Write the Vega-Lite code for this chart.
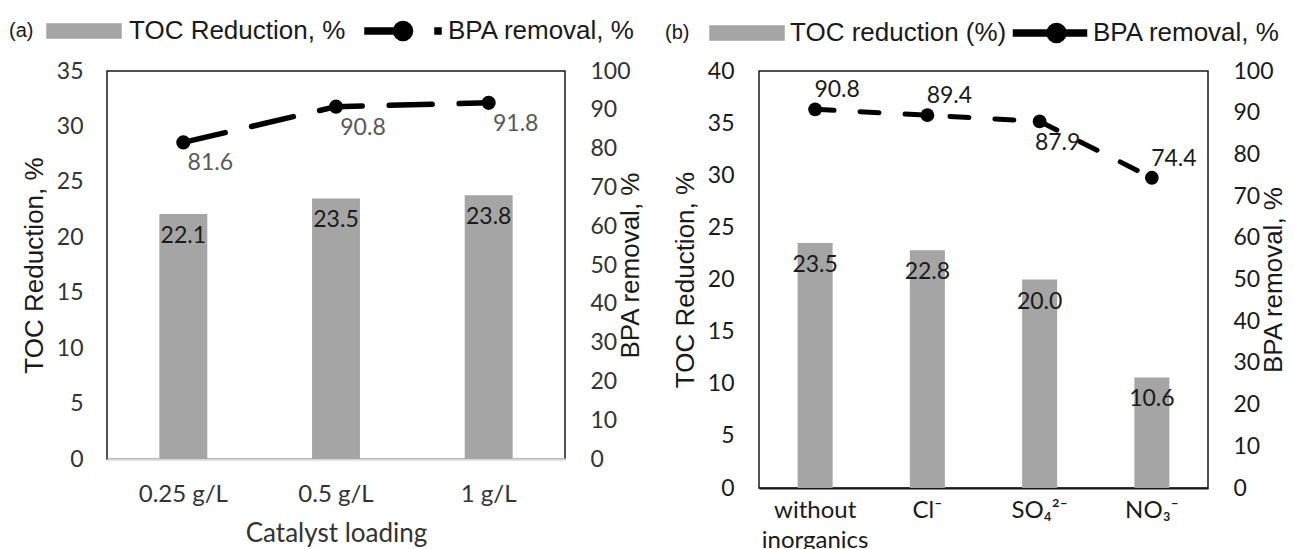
{
  "$schema": "https://vega.github.io/schema/vega-lite/v6.json",
  "background": "white",
  "padding": {"left": 8, "top": 17, "right": 0, "bottom": 0},
  "spacing": 194,
  "bounds": "flush",
  "config": {
    "view": {"stroke": "#1a1a1a", "strokeWidth": 1.5},
    "axis": {"grid": false, "ticks": false, "tickSize": 0, "domain": false, "labelOverlap": false, "labelFont": "Lato", "labelColor": "#333333", "titleFont": "Liberation Sans", "titleFontWeight": "normal", "titleColor": "#1a1a1a", "titleFontSize": 26}
  },
  "resolve": {"scale": {"color": "independent", "x": "independent", "y": "independent"}, "legend": {"color": "independent"}},
  "hconcat": [
    {
      "width": 458,
      "height": 388,
      "data": {"values": [
        {"loading": "0.25 g/L", "toc": 22.1, "bpa": 81.6},
        {"loading": "0.5 g/L", "toc": 23.5, "bpa": 90.8},
        {"loading": "1 g/L", "toc": 23.8, "bpa": 91.8}
      ]},
      "resolve": {"scale": {"y": "independent"}},
      "layer": [
        {
          "layer": [
            {
              "mark": {"type": "bar"},
              "encoding": {
                "x": {"field": "loading", "type": "nominal", "sort": null,
                  "scale": {"paddingInner": 0.686, "paddingOuter": 0.343},
                  "axis": {"title": "Catalyst loading", "titleFont": "Lato", "titleFontSize": 26, "titleColor": "#333333", "labelFontSize": 24, "labelAngle": 0, "labelPadding": 23, "titlePadding": 14, "domain": true, "domainColor": "#d9d9d9", "domainWidth": 2.5}},
                "y": {"field": "toc", "type": "quantitative", "scale": {"domain": [0, 35]},
                  "axis": {"title": "TOC Reduction, %", "values": [0, 5, 10, 15, 20, 25, 30, 35], "labelFontSize": 23, "labelPadding": 24, "titlePadding": 9}},
                "color": {"datum": "TOC Reduction, %",
                  "scale": {"domain": ["TOC Reduction, %", "BPA removal, %"], "range": ["#a5a5a5", "#000000"]},
                  "legend": {"orient": "none", "legendX": -98, "legendY": -53, "direction": "horizontal",
                    "title": "(a)", "titleOrient": "left", "titleFont": "Liberation Sans", "titleFontSize": 20, "titleFontWeight": "normal", "titleColor": "#1a1a1a", "titlePadding": 37,
                    "labelFont": "Liberation Sans", "labelFontSize": 26, "labelColor": "#1a1a1a", "labelOffset": 32, "labelLimit": 400, "columnPadding": 16, "symbolSize": 400,
                    "encode": {"symbols": {"update": {
                      "shape": {"signal": "datum.value === 'TOC Reduction, %' ? 'M-3.7,-0.7H3.7V0.7H-3.7Z' : 'M-3.8,-0.3H0V0.3H-3.8Z M3.2,-0.3H3.8V0.3H3.2Z M0.95,0A0.95,0.95,0,1,1,-0.95,0A0.95,0.95,0,1,1,0.95,0Z'"},
                      "fill": {"signal": "datum.value === 'TOC Reduction, %' ? '#a5a5a5' : '#000000'"},
                      "stroke": {"value": "transparent"},
                      "opacity": {"value": 1}
                    }}}}
                }
              }
            },
            {
              "mark": {"type": "text", "baseline": "middle", "dy": 22, "font": "Lato", "fontSize": 23, "color": "#1a1a1a"},
              "encoding": {
                "x": {"field": "loading", "type": "nominal", "sort": null},
                "y": {"field": "toc", "type": "quantitative",
                  "axis": {"title": "TOC Reduction, %", "values": [0, 5, 10, 15, 20, 25, 30, 35], "labelFontSize": 23, "labelPadding": 24, "titlePadding": 9}},
                "text": {"field": "toc", "type": "quantitative", "format": ".1f"}
              }
            }
          ]
        },
        {
          "layer": [
            {
              "mark": {"type": "line", "strokeWidth": 5.5, "strokeDash": [43, 27], "strokeCap": "round"},
              "encoding": {
                "x": {"field": "loading", "type": "nominal", "sort": null},
                "y": {"field": "bpa", "type": "quantitative", "scale": {"domain": [0, 100]},
                  "axis": {"orient": "right", "title": "BPA removal, %", "values": [0, 10, 20, 30, 40, 50, 60, 70, 80, 90, 100], "tickCount": 11, "labelFontSize": 23, "labelPadding": 25, "titlePadding": -13, "titleAngle": 270, "titleBaseline": "top"}},
                "color": {"datum": "BPA removal, %"}
              }
            },
            {
              "mark": {"type": "point", "filled": true, "size": 200, "opacity": 1},
              "encoding": {
                "x": {"field": "loading", "type": "nominal", "sort": null},
                "y": {"field": "bpa", "type": "quantitative",
                  "axis": {"orient": "right", "title": "BPA removal, %", "values": [0, 10, 20, 30, 40, 50, 60, 70, 80, 90, 100], "tickCount": 11, "labelFontSize": 23, "labelPadding": 25, "titlePadding": -13, "titleAngle": 270, "titleBaseline": "top"}},
                "color": {"datum": "BPA removal, %"}
              }
            },
            {
              "mark": {"type": "text", "baseline": "middle", "dx": 27, "dy": 21, "font": "Lato", "fontSize": 23, "color": "#595959"},
              "encoding": {
                "x": {"field": "loading", "type": "nominal", "sort": null},
                "y": {"field": "bpa", "type": "quantitative",
                  "axis": {"orient": "right", "title": "BPA removal, %", "values": [0, 10, 20, 30, 40, 50, 60, 70, 80, 90, 100], "tickCount": 11, "labelFontSize": 23, "labelPadding": 25, "titlePadding": -13, "titleAngle": 270, "titleBaseline": "top"}},
                "text": {"field": "bpa", "type": "quantitative", "format": ".1f"}
              }
            }
          ]
        }
      ]
    },
    {
      "width": 449,
      "height": 417,
      "data": {"values": [
        {"ion": "without inorganics", "toc": 23.5, "bpa": 90.8},
        {"ion": "Cl⁻", "toc": 22.8, "bpa": 89.4},
        {"ion": "SO₄²⁻", "toc": 20.0, "bpa": 87.9},
        {"ion": "NO₃⁻", "toc": 10.6, "bpa": 74.4}
      ]},
      "resolve": {"scale": {"y": "independent"}},
      "layer": [
        {
          "layer": [
            {
              "mark": {"type": "bar"},
              "encoding": {
                "x": {"field": "ion", "type": "nominal", "sort": null,
                  "scale": {"paddingInner": 0.688, "paddingOuter": 0.344},
                  "axis": {"title": null, "labelFontSize": 24, "labelAngle": 0, "labelPadding": 10, "labelLineHeight": 30, "labelColor": "#1a1a1a",
                    "labelExpr": "datum.label === 'without inorganics' ? ['without', 'inorganics'] : datum.label",
                    "domain": true, "domainColor": "#1a1a1a", "domainWidth": 2}},
                "y": {"field": "toc", "type": "quantitative", "scale": {"domain": [0, 40]},
                  "axis": {"title": "TOC Reduction, %", "values": [0, 5, 10, 15, 20, 25, 30, 35, 40], "labelFontSize": 23, "labelPadding": 25, "titlePadding": 9, "labelColor": "#1a1a1a"}},
                "color": {"datum": "TOC reduction (%)",
                  "scale": {"domain": ["TOC reduction (%)", "BPA removal, %"], "range": ["#a5a5a5", "#000000"]},
                  "legend": {"orient": "none", "legendX": -94, "legendY": -51, "direction": "horizontal",
                    "title": "(b)", "titleOrient": "left", "titleFont": "Liberation Sans", "titleFontSize": 20, "titleFontWeight": "normal", "titleColor": "#1a1a1a", "titlePadding": 44,
                    "labelFont": "Liberation Sans", "labelFontSize": 26, "labelColor": "#1a1a1a", "labelOffset": 30, "labelLimit": 400, "columnPadding": 3, "symbolSize": 400,
                    "encode": {"symbols": {"update": {
                      "shape": {"signal": "datum.value === 'TOC reduction (%)' ? 'M-3.7,-0.7H3.7V0.7H-3.7Z' : 'M-3.65,-0.3H3.65V0.3H-3.65Z M1.6,0A0.95,0.95,0,1,1,-0.3,0A0.95,0.95,0,1,1,1.6,0Z'"},
                      "fill": {"signal": "datum.value === 'TOC reduction (%)' ? '#a5a5a5' : '#000000'"},
                      "stroke": {"value": "transparent"},
                      "opacity": {"value": 1}
                    }}}}
                }
              }
            },
            {
              "mark": {"type": "text", "baseline": "middle", "dy": 22, "font": "Lato", "fontSize": 23, "color": "#1a1a1a"},
              "encoding": {
                "x": {"field": "ion", "type": "nominal", "sort": null},
                "y": {"field": "toc", "type": "quantitative",
                  "axis": {"title": "TOC Reduction, %", "values": [0, 5, 10, 15, 20, 25, 30, 35, 40], "labelFontSize": 23, "labelPadding": 25, "titlePadding": 9, "labelColor": "#1a1a1a"}},
                "text": {"field": "toc", "type": "quantitative", "format": ".1f"}
              }
            }
          ]
        },
        {
          "layer": [
            {
              "mark": {"type": "line", "strokeWidth": 5, "strokeDash": [19, 26], "strokeCap": "round"},
              "encoding": {
                "x": {"field": "ion", "type": "nominal", "sort": null},
                "y": {"field": "bpa", "type": "quantitative", "scale": {"domain": [0, 100]},
                  "axis": {"orient": "right", "title": "BPA removal, %", "values": [0, 10, 20, 30, 40, 50, 60, 70, 80, 90, 100], "tickCount": 11, "labelFontSize": 23, "labelPadding": 25, "titlePadding": -13, "titleAngle": 270, "titleBaseline": "top", "labelColor": "#1a1a1a"}},
                "color": {"datum": "BPA removal, %"}
              }
            },
            {
              "mark": {"type": "point", "filled": true, "size": 190, "opacity": 1},
              "encoding": {
                "x": {"field": "ion", "type": "nominal", "sort": null},
                "y": {"field": "bpa", "type": "quantitative",
                  "axis": {"orient": "right", "title": "BPA removal, %", "values": [0, 10, 20, 30, 40, 50, 60, 70, 80, 90, 100], "tickCount": 11, "labelFontSize": 23, "labelPadding": 25, "titlePadding": -13, "titleAngle": 270, "titleBaseline": "top", "labelColor": "#1a1a1a"}},
                "color": {"datum": "BPA removal, %"}
              }
            },
            {
              "transform": [{"filter": "datum.ion !== 'SO₄²⁻'"}],
              "mark": {"type": "text", "baseline": "middle", "dx": 22, "dy": -19, "font": "Lato", "fontSize": 23, "color": "#1a1a1a"},
              "encoding": {
                "x": {"field": "ion", "type": "nominal", "sort": null},
                "y": {"field": "bpa", "type": "quantitative",
                  "axis": {"orient": "right", "title": "BPA removal, %", "values": [0, 10, 20, 30, 40, 50, 60, 70, 80, 90, 100], "tickCount": 11, "labelFontSize": 23, "labelPadding": 25, "titlePadding": -13, "titleAngle": 270, "titleBaseline": "top", "labelColor": "#1a1a1a"}},
                "text": {"field": "bpa", "type": "quantitative", "format": ".1f"}
              }
            },
            {
              "transform": [{"filter": "datum.ion === 'SO₄²⁻'"}],
              "mark": {"type": "text", "baseline": "middle", "dx": 18, "dy": 22, "font": "Lato", "fontSize": 23, "color": "#1a1a1a"},
              "encoding": {
                "x": {"field": "ion", "type": "nominal", "sort": null},
                "y": {"field": "bpa", "type": "quantitative",
                  "axis": {"orient": "right", "title": "BPA removal, %", "values": [0, 10, 20, 30, 40, 50, 60, 70, 80, 90, 100], "tickCount": 11, "labelFontSize": 23, "labelPadding": 25, "titlePadding": -13, "titleAngle": 270, "titleBaseline": "top", "labelColor": "#1a1a1a"}},
                "text": {"field": "bpa", "type": "quantitative", "format": ".1f"}
              }
            }
          ]
        }
      ]
    }
  ]
}
